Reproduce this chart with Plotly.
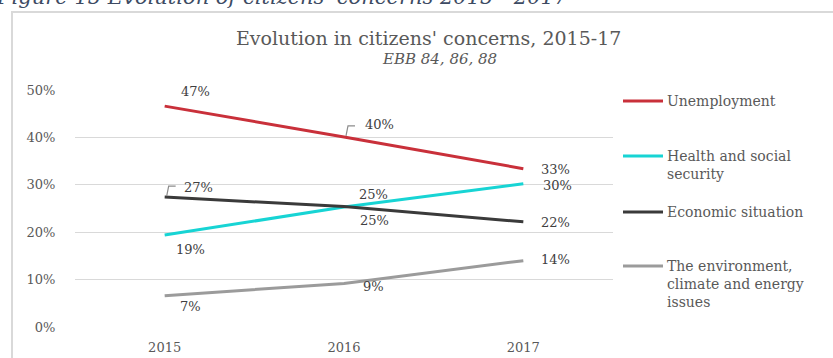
import plotly.graph_objects as go

# Survey waves and shares of respondents naming each concern (%)
years = ["2015", "2016", "2017"]
series_names = [
    "Unemployment",
    "Health and social security",
    "Economic situation",
    "The environment, climate and energy issues",
]
unemployment = [46.6, 40.1, 33.4]
health = [19.4, 25.3, 30.2]
economic = [27.4, 25.4, 22.2]
environment = [6.6, 9.2, 14.0]
y_ticks = [0, 10, 20, 30, 40, 50]
y_tick_labels = [f"{v}%" for v in y_ticks]

legend_labels = [
    "Unemployment",
    "Health and social<br>security",
    "Economic situation",
    "The environment,<br>climate and energy<br>issues",
]
colors = ["#c9303a", "#17d4d4", "#3a3a3a", "#9b9b9b"]
values = [unemployment, health, economic, environment]

FONT = "DejaVu Serif"
TEXT = "#595959"
Y_MAX = 50

# Plot-area geometry (pixels)
W, H = 833, 358
L, R, T, B = 75, 220, 90, 31
PW, PH = W - L - R, H - T - B


def px(x):
    return (x - L) / PW


def py(y):
    return (H - B - y) / PH


def point_paper(i, v):
    """Paper position of category i at value v."""
    return (i + 0.5) / len(years), v / Y_MAX


fig = go.Figure()
for name, vals, col in zip(series_names, values, colors):
    fig.add_trace(go.Scatter(
        x=years, y=vals, name=name, mode="lines",
        line=dict(color=col, width=3), showlegend=False,
        hoverinfo="skip",
    ))

# Data labels: (series index, point index, x offset, y offset)
label_pos = [
    (0, 0, 31, 15), (0, 1, 35, 12), (0, 2, 32, -1),
    (1, 0, 26, -14), (1, 1, 29, 13), (1, 2, 34, -2),
    (2, 0, 34, 10), (2, 1, 30, -14), (2, 2, 32, -1),
    (3, 0, 26, -11), (3, 1, 29, -3), (3, 2, 32, 1),
]
for si, pi, dx, dy in label_pos:
    v = values[si][pi]
    fig.add_annotation(
        x=pi, y=v, xref="x", yref="y", text=f"{round(v):d}%",
        showarrow=False, xshift=dx, yshift=dy,
        font=dict(family=FONT, size=13, color="#404040"),
    )

# Leader lines for the displaced labels
for si, pi in [(2, 0), (0, 1)]:
    x0, y0 = point_paper(pi, values[si][pi])
    a = (x0 + 2 / PW, y0 + 1 / PH)
    b = (x0 + 4 / PW, y0 + 11 / PH)
    c = (x0 + 11 / PW, y0 + 11 / PH)
    fig.add_shape(
        type="path", xref="paper", yref="paper",
        path=f"M {a[0]} {a[1]} L {b[0]} {b[1]} L {c[0]} {c[1]}",
        line=dict(color="#8c8c8c", width=1.2),
    )

# Legend drawn as line samples with labels
legend_y = [101, 156, 212, 266]
for lab, col, ly in zip(legend_labels, colors, legend_y):
    fig.add_shape(type="line", xref="paper", yref="paper",
                  x0=px(623), x1=px(663), y0=py(ly), y1=py(ly),
                  line=dict(color=col, width=3))
    fig.add_annotation(
        x=px(665), y=py(ly - 10), xref="paper", yref="paper",
        xanchor="left", yanchor="top", align="left", text=lab,
        showarrow=False,
        font=dict(family=FONT, size=14, color=TEXT),
    )

# Chart title and source line
fig.add_annotation(
    x=px(428), y=py(38), xref="paper", yref="paper", text="Evolution in citizens' concerns, 2015-17",
    showarrow=False, xanchor="center", yanchor="middle",
    font=dict(family=FONT, size=19, color=TEXT),
)
fig.add_annotation(
    x=px(499), y=py(59), xref="paper", yref="paper", text="<i>EBB 84, 86, 88</i>",
    showarrow=False, xanchor="right", yanchor="middle",
    font=dict(family=FONT, size=15, color=TEXT),
)

# Figure caption above the frame
fig.add_annotation(
    x=px(-6), y=py(11), xref="paper", yref="paper",
    text="<i>Figure 15 Evolution of citizens' concerns 2015 - 2017</i>",
    showarrow=False, xanchor="left", yanchor="bottom",
    font=dict(family=FONT, size=21, color="#3d4b63"),
)

# Chart frame
fig.add_shape(type="rect", xref="paper", yref="paper",
              x0=px(12), x1=px(W + 5), y0=py(12), y1=py(H + 5),
              line=dict(color="#d9d9d9", width=2), layer="below")

fig.update_layout(
    width=W, height=H, autosize=False,
    margin=dict(l=L, r=R, t=T, b=B, pad=0),
    paper_bgcolor="white", plot_bgcolor="white",
)
fig.update_xaxes(
    type="category", range=[-0.5, 2.5], showgrid=False, zeroline=False,
    showline=False, ticks="outside", ticklen=8, tickcolor="rgba(0,0,0,0)",
    tickfont=dict(family=FONT, size=13, color=TEXT), fixedrange=True,
    automargin=False,
)
fig.update_yaxes(
    range=[0, Y_MAX], tickmode="array", tickvals=y_ticks, ticktext=y_tick_labels,
    showgrid=True, gridcolor="#d9d9d9", gridwidth=1,
    zeroline=False, showline=False,
    ticks="outside", ticklen=16, tickcolor="rgba(0,0,0,0)",
    tickfont=dict(family=FONT, size=13, color=TEXT), fixedrange=True,
    automargin=False,
)

fig.write_html("out.html")
